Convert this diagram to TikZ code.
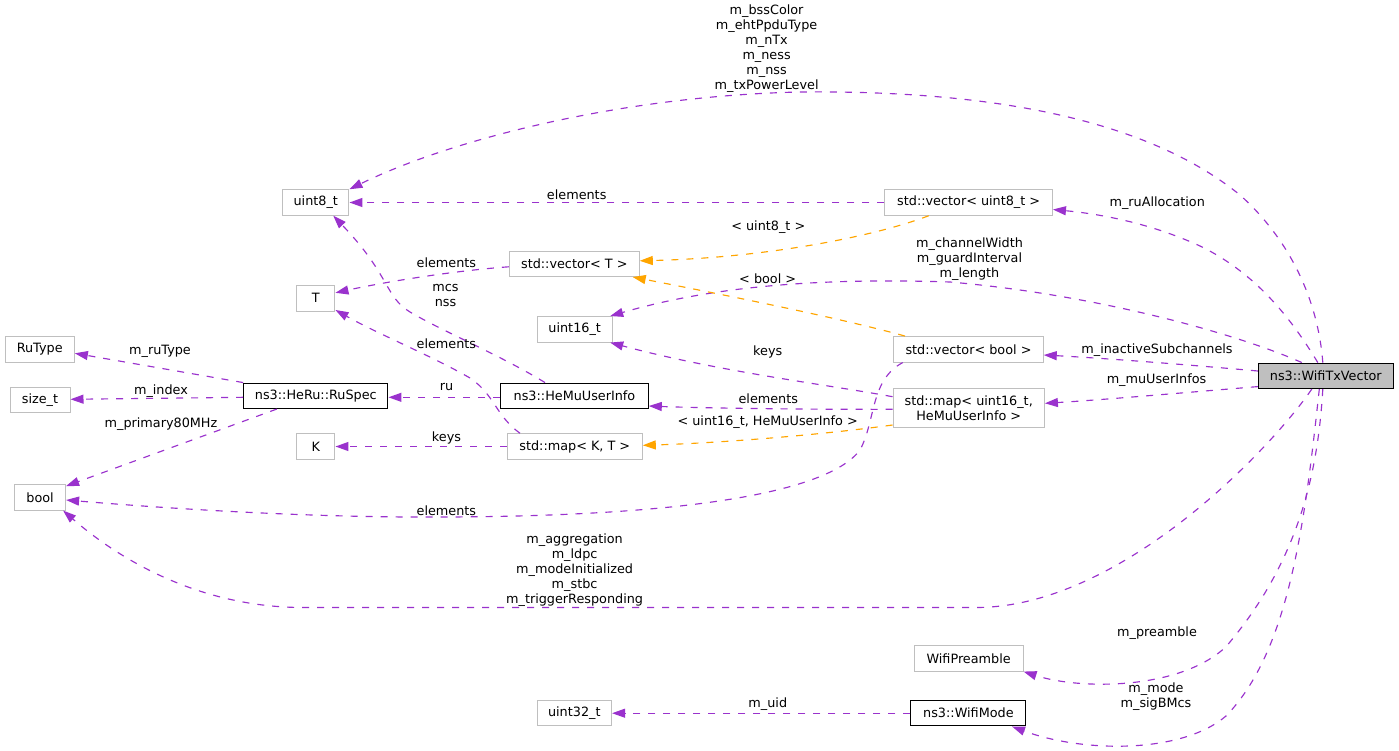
\documentclass[tikz,border=0pt]{standalone}
\usepackage{fontspec}
\setmainfont{DejaVu Sans}
\usetikzlibrary{arrows.meta}
\definecolor{edgep}{HTML}{9A32CD}
\definecolor{edgeo}{HTML}{FFA500}
\definecolor{boxg}{HTML}{BFBFBF}
\begin{document}
\begin{tikzpicture}[x=1pt,y=-1pt,
  font=\fontsize{12.8}{15}\selectfont,
  box/.style={draw=boxg, line width=1pt, fill=white, minimum height=25.5pt, inner sep=0pt, anchor=center},
  hbox/.style={box, draw=black},
  lbl/.style={inner sep=0pt, align=center},
  pe/.style={draw=edgep, line width=1.15pt, dash pattern=on 7pt off 8pt, -{Triangle[length=13pt,width=9pt,fill=edgep]}},
  oe/.style={draw=edgeo, line width=1.15pt, dash pattern=on 7pt off 8pt, -{Triangle[length=13pt,width=9pt,fill=edgeo]}}]
\useasboundingbox (0,0) rectangle (1399,750);
% nodes
\node[hbox, fill=boxg, minimum width=135pt] (tx) at (1325.8,375.8) {ns3::WifiTxVector};
\node[box, minimum width=66.3pt] (u8) at (315.8,202.5) {uint8\_t};
\node[box, minimum width=167.5pt] (vu8) at (968.7,202.5) {std::vector< uint8\_t >};
\node[box, minimum width=130pt] (vT) at (574.3,263.8) {std::vector< T >};
\node[box, minimum width=38.3pt] (T) at (315.8,298.3) {T};
\node[box, minimum width=74.7pt] (u16) at (574.7,329.3) {uint16\_t};
\node[box, minimum width=149.5pt] (vb) at (968.5,349.3) {std::vector< bool >};
\node[box, minimum width=151.4pt, minimum height=39.4pt, align=center] (m16) at (968.7,408) {std::map< uint16\_t,\\HeMuUserInfo >};
\node[box, minimum width=69.3pt] (rut) at (39.7,349.3) {RuType};
\node[box, minimum width=60pt] (szt) at (40,399.8) {size\_t};
\node[hbox, minimum width=144.3pt] (rus) at (315.8,395.8) {ns3::HeRu::RuSpec};
\node[hbox, minimum width=147.6pt] (hemu) at (574.5,395.8) {ns3::HeMuUserInfo};
\node[box, minimum width=38.3pt] (K) at (315.8,446.5) {K};
\node[box, minimum width=135pt] (mKT) at (574.8,446.5) {std::map< K, T >};
\node[box, minimum width=51pt] (bool) at (40.1,497.3) {bool};
\node[box, minimum width=109pt] (pre) at (968.6,658.3) {WifiPreamble};
\node[box, minimum width=74.6pt] (u32) at (574.3,713.2) {uint32\_t};
\node[hbox, minimum width=115pt] (wm) at (968.4,713.2) {ns3::WifiMode};
% edges
\draw[pe] ([xshift=-3pt]tx.north) .. controls (1318,300) and (1290,240) .. (1240,195) .. controls (1150,122) and (1000,90) .. (800,92) .. controls (620,96) and (450,140) .. (u8.north east);
\draw[pe] ([xshift=-8pt]tx.north) .. controls (1295,325) and (1260,275) .. (1200,246) .. controls (1150,223) and (1100,214) .. ([yshift=-7pt]vu8.east);
\draw[pe] (vu8.west) -- (u8.east);
\draw[oe] ([xshift=-40pt]vu8.south) .. controls (870,238) and (760,258) .. ([yshift=3pt]vT.east);
\draw[pe] ([yshift=-3pt]vT.west) .. controls (450,271) and (380,283) .. ([yshift=5.5pt]T.east);
\draw[pe] ([xshift=-29.5pt]hemu.north) .. controls (500,355) and (440,330) .. (410,312) .. controls (385,297) and (390,275) .. ([xshift=17.5pt]u8.south);
\draw[pe] ([xshift=-54.8pt]mKT.north) .. controls (495,415) and (495,395) .. (470,378) .. controls (430,355) and (380,335) .. ([yshift=-11.7pt]T.east);
\draw[pe] ([xshift=-24pt]tx.north) .. controls (1240,335) and (1100,295) .. (950,282) .. controls (800,277) and (700,290) .. ([xshift=35.5pt]u16.north);
\draw[oe] ([xshift=-63.5pt]vb.north) .. controls (840,318) and (720,294) .. ([xshift=58.4pt]vT.south);
\draw[pe] ([yshift=11.3pt]m16.west) .. controls (830,385) and (720,372) .. ([xshift=35.5pt]u16.south);
\draw[pe] ([yshift=4.8pt]tx.west) .. controls (1180,364) and (1100,358) .. ([yshift=-5.7pt]vb.east);
\draw[pe] ([yshift=-10.8pt]tx.west) .. controls (1180,393) and (1100,400) .. ([yshift=4.7pt]m16.east);
\draw[pe] ([yshift=-1.3pt]m16.west) .. controls (800,409.5) and (700,408) .. ([yshift=-10.2pt]hemu.east);
\draw[oe] ([yshift=-17pt]m16.west) .. controls (820,435) and (720,443) .. ([yshift=1.2pt]mKT.east);
\draw[pe] ([yshift=-1.5pt]hemu.west) -- ([yshift=-1.5pt]rus.east);
\draw[pe] (rus.north west) -- ([yshift=-4pt]rut.east);
\draw[pe] ([yshift=-1.5pt]rus.west) -- ([yshift=0.5pt]szt.east);
\draw[pe] ([xshift=-39pt]rus.south) -- ([yshift=-2pt]bool.north east);
\draw[pe] (mKT.west) -- (K.east);
\draw[pe] ([xshift=9.5pt]vb.south west) .. controls (870,380) and (876,420) .. (860,450) .. controls (830,490) and (700,516) .. (446,517) .. controls (300,518) and (150,507) .. ([yshift=-2.7pt]bool.east);
\draw[pe] ([xshift=-14pt]tx.south) .. controls (1270,450) and (1120,607.5) .. (976,607.5) -- (303.6,607.5) .. controls (200,607.5) and (120,560) .. ([xshift=-3pt]bool.south east);
\draw[pe] ([xshift=-3pt]tx.south) .. controls (1318,470) and (1300,560) .. (1226,646.7) .. controls (1180,690) and (1080,690) .. (pre.south east);
\draw[pe] ([xshift=-6.5pt]tx.south) .. controls (1305,520) and (1290,650) .. (1226,716) .. controls (1180,755) and (1080,752) .. ([xshift=43.6pt]wm.south);
\draw[pe] (wm.west) -- (u32.east);
% labels
\node[lbl] (l1) at (766.6,48.3) {m\_bssColor\\m\_ehtPpduType\\m\_nTx\\m\_ness\\m\_nss\\m\_txPowerLevel};
\node[lbl] (l2) at (1157.2,203.3) {m\_ruAllocation};
\node[lbl] (l3) at (576.7,194.3) {elements};
\node[lbl] (l4) at (768.3,227.3) {< uint8\_t >};
\node[lbl] (l5) at (446.4,262.3) {elements};
\node[lbl] (l6) at (445.5,295.8) {mcs\\nss};
\node[lbl] (l7) at (446.4,343.3) {elements};
\node[lbl] (l8) at (969.5,259.2) {m\_channelWidth\\m\_guardInterval\\m\_length};
\node[lbl] (l9) at (767.7,279) {< bool >};
\node[lbl] (l10) at (767.7,352.3) {keys};
\node[lbl] (l11) at (1157,350) {m\_inactiveSubchannels};
\node[lbl] (l12) at (1156.5,380) {m\_muUserInfos};
\node[lbl] (l13) at (768.3,398.7) {elements};
\node[lbl] (l14) at (767.7,422.3) {< uint16\_t, HeMuUserInfo >};
\node[lbl] (l15) at (446.5,387) {ru};
\node[lbl] (l16) at (160,351.7) {m\_ruType};
\node[lbl] (l17) at (161,390.7) {m\_index};
\node[lbl] (l18) at (161,424) {m\_primary80MHz};
\node[lbl] (l19) at (446.5,438.3) {keys};
\node[lbl] (l20) at (446.4,510.7) {elements};
\node[lbl] (l21) at (574.6,570) {m\_aggregation\\m\_ldpc\\m\_modeInitialized\\m\_stbc\\m\_triggerResponding};
\node[lbl] (l22) at (1157,632.7) {m\_preamble};
\node[lbl] (l23) at (1156,696.2) {m\_mode\\m\_sigBMcs};
\node[lbl] (l24) at (767.8,704.3) {m\_uid};
\end{tikzpicture}
\end{document}
